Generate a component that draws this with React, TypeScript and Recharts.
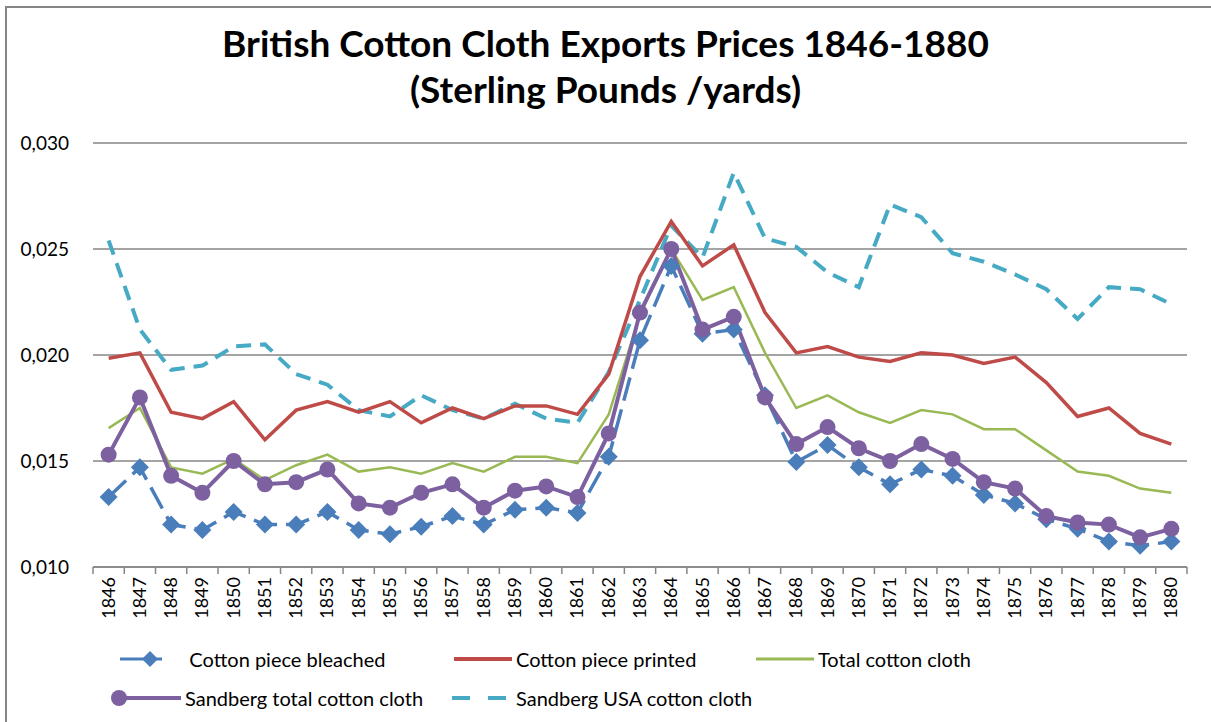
import { LineChart, Line, XAxis, YAxis, CartesianGrid } from 'recharts'

const years = [
  1846, 1847, 1848, 1849, 1850, 1851, 1852, 1853, 1854, 1855, 1856, 1857, 1858, 1859, 1860, 1861, 1862,
  1863, 1864, 1865, 1866, 1867, 1868, 1869, 1870, 1871, 1872, 1873, 1874, 1875, 1876, 1877, 1878, 1879, 1880,
]

const bleached = [
  0.0133, 0.0147, 0.0120, 0.01175, 0.0126, 0.0120, 0.0120, 0.0126, 0.01175, 0.01155, 0.0119, 0.0124, 0.0120,
  0.0127, 0.0128, 0.01255, 0.0152, 0.0207, 0.0242, 0.0210, 0.0212, 0.0181, 0.01495, 0.01575, 0.0147, 0.0139,
  0.0146, 0.0143, 0.0134, 0.0130, 0.01225, 0.0118, 0.0112, 0.0110, 0.0112,
]

const printed = [
  0.01985, 0.0201, 0.0173, 0.0170, 0.0178, 0.0160, 0.0174, 0.0178, 0.0173, 0.0178, 0.0168, 0.0175, 0.0170,
  0.0176, 0.0176, 0.0172, 0.0191, 0.0237, 0.0263, 0.0242, 0.0252, 0.0220, 0.0201, 0.0204, 0.0199, 0.0197,
  0.0201, 0.0200, 0.0196, 0.0199, 0.0187, 0.0171, 0.0175, 0.0163, 0.0158,
]

const totalCloth = [
  0.01655, 0.0175, 0.0147, 0.0144, 0.0151, 0.0141, 0.0148, 0.0153, 0.0145, 0.0147, 0.0144, 0.0149, 0.0145,
  0.0152, 0.0152, 0.0149, 0.0172, 0.0219, 0.0250, 0.0226, 0.0232, 0.0201, 0.0175, 0.0181, 0.0173, 0.0168,
  0.0174, 0.0172, 0.0165, 0.0165, 0.0155, 0.0145, 0.0143, 0.0137, 0.0135,
]

const sandbergTotal = [
  0.0153, 0.0180, 0.0143, 0.0135, 0.0150, 0.0139, 0.0140, 0.0146, 0.0130, 0.0128, 0.0135, 0.0139, 0.0128,
  0.0136, 0.0138, 0.0133, 0.0163, 0.0220, 0.0250, 0.0212, 0.0218, 0.0180, 0.0158, 0.0166, 0.0156, 0.0150,
  0.0158, 0.0151, 0.0140, 0.0137, 0.0124, 0.0121, 0.0120, 0.0114, 0.0118,
]

const sandbergUsa = [
  0.0254, 0.0212, 0.0193, 0.0195, 0.0204, 0.0205, 0.0191, 0.0186, 0.0174, 0.0171, 0.0181, 0.0174, 0.0170,
  0.0177, 0.0170, 0.0168, 0.0192, 0.0226, 0.0261, 0.0246, 0.0286, 0.0255, 0.0251, 0.0239, 0.0232, 0.0271,
  0.0265, 0.0248, 0.0244, 0.0238, 0.0231, 0.0217, 0.0232, 0.0231, 0.0224,
]

const yTicks = [0.01, 0.015, 0.02, 0.025, 0.03]

const data = years.map((year, i) => ({
  year,
  bleached: bleached[i],
  printed: printed[i],
  total: totalCloth[i],
  sandbergTotal: sandbergTotal[i],
  sandbergUsa: sandbergUsa[i],
}))

const FONT = 'Lato, "Open Sans", sans-serif'
const AXIS_GRAY = '#868686'
const BLUE = '#4a7ebb'
const RED = '#be4b48'
const GREEN = '#98b954'
const PURPLE = '#7d60a0'
const CYAN = '#46aac5'

const W = 1211
const H = 722
const PLOT_LEFT = 93
const PLOT_RIGHT = 1187
const BAND = (PLOT_RIGHT - PLOT_LEFT) / years.length

function Diamond({ cx, cy }: any) {
  if (cx == null || cy == null) return null
  const s = 9
  return (
    <path
      d={`M${cx},${cy - s} L${cx + s},${cy} L${cx},${cy + s} L${cx - s},${cy} Z`}
      fill={BLUE}
    />
  )
}

function Circle({ cx, cy }: any) {
  if (cx == null || cy == null) return null
  return <circle cx={cx} cy={cy} r={8} fill={PURPLE} />
}

function YearTick({ x, y, payload, index }: any) {
  const half = BAND / 2
  const last = index === years.length - 1
  return (
    <g>
      <line x1={x - half} x2={x - half} y1={y} y2={y + 7} stroke={AXIS_GRAY} strokeWidth={1.5} />
      {last && <line x1={x + half} x2={x + half} y1={y} y2={y + 7} stroke={AXIS_GRAY} strokeWidth={1.5} />}
      <text
        x={0}
        y={0}
        transform={`translate(${x + 6},${y + 10}) rotate(-90)`}
        textAnchor="end"
        fontSize={18}
        fontFamily={FONT}
        fill="#000"
      >
        {payload.value}
      </text>
    </g>
  )
}

function LegendItem({ kind, color, label }: { kind: string; color: string; label: string }) {
  let icon = null
  if (kind === 'diamond') {
    icon = (
      <svg width={60} height={20}>
        <line x1={8} x2={50} y1={10} y2={10} stroke={color} strokeWidth={3} />
        <path d="M38,2 L46,10 L38,18 L30,10 Z" fill={color} />
      </svg>
    )
  } else if (kind === 'circle') {
    icon = (
      <svg width={75} height={20}>
        <line x1={10} x2={73} y1={10} y2={10} stroke={color} strokeWidth={4} />
        <circle cx={11} cy={10} r={8} fill={color} />
      </svg>
    )
  } else if (kind === 'dash') {
    icon = (
      <svg width={70} height={20}>
        <line x1={8} x2={62} y1={10} y2={10} stroke={color} strokeWidth={4} strokeDasharray="18 18" />
      </svg>
    )
  } else {
    icon = (
      <svg width={62} height={20}>
        <line x1={2} x2={60} y1={10} y2={10} stroke={color} strokeWidth={kind === 'thin' ? 3 : 4} />
      </svg>
    )
  }
  return (
    <div style={{ display: 'flex', alignItems: 'center', gap: 2 }}>
      {icon}
      <span style={{ fontSize: 20, fontFamily: FONT, color: '#000' }}>{label}</span>
    </div>
  )
}

export default function App() {
  return (
    <div style={{ position: 'absolute', left: 0, top: 0, width: W, height: H, background: '#fff', overflow: 'hidden' }}>
      <div
        style={{
          position: 'absolute',
          left: 5,
          top: 6,
          width: W + 20,
          height: H + 20,
          border: `2px solid ${AXIS_GRAY}`,
          boxSizing: 'border-box',
        }}
      />
      <div
        style={{
          position: 'absolute',
          left: 0,
          top: 20,
          width: W,
          textAlign: 'center',
          fontFamily: FONT,
          fontWeight: 700,
          fontSize: 37,
          lineHeight: '46px',
          color: '#000',
        }}
      >
        British Cotton Cloth Exports Prices 1846-1880
        <br />
        (Sterling Pounds /yards)
      </div>

      <div style={{ position: 'absolute', left: 0, top: 0 }}>
        <LineChart
          width={W}
          height={H}
          data={data}
          margin={{ top: 143, right: W - PLOT_RIGHT, bottom: 95, left: 0 }}
        >
          <CartesianGrid vertical={false} stroke={AXIS_GRAY} strokeWidth={1.5} />
          <XAxis
            dataKey="year"
            type="category"
            interval={0}
            height={60}
            padding={{ left: BAND / 2, right: BAND / 2 }}
            tickLine={false}
            tickSize={0}
            tickMargin={0}
            axisLine={{ stroke: AXIS_GRAY, strokeWidth: 1.5 }}
            tick={<YearTick />}
          />
          <YAxis
            width={PLOT_LEFT}
            domain={[0.01, 0.03]}
            ticks={yTicks}
            axisLine={false}
            tickLine={false}
            tickMargin={18}
            tick={{ fontSize: 19, fontFamily: FONT, fill: '#000' }}
            tickFormatter={(v: number) => v.toFixed(3).replace('.', ',')}
          />
          <Line
            dataKey="sandbergUsa"
            stroke={CYAN}
            strokeWidth={4}
            strokeDasharray="15 9"
            dot={false}
            activeDot={false}
            isAnimationActive={false}
          />
          <Line
            dataKey="printed"
            stroke={RED}
            strokeWidth={3.5}
            dot={false}
            activeDot={false}
            isAnimationActive={false}
          />
          <Line
            dataKey="total"
            stroke={GREEN}
            strokeWidth={2.5}
            dot={false}
            activeDot={false}
            isAnimationActive={false}
          />
          <Line
            dataKey="bleached"
            stroke={BLUE}
            strokeWidth={3.5}
            strokeDasharray="24 9"
            dot={<Diamond />}
            activeDot={false}
            isAnimationActive={false}
          />
          <Line
            dataKey="sandbergTotal"
            stroke={PURPLE}
            strokeWidth={4}
            dot={<Circle />}
            activeDot={false}
            isAnimationActive={false}
          />
        </LineChart>
      </div>

      <div style={{ position: 'absolute', left: 112, top: 647 }}>
        <LegendItem kind="diamond" color={BLUE} label={'\u00A0\u00A0\u00A0Cotton piece bleached'} />
      </div>
      <div style={{ position: 'absolute', left: 452, top: 647 }}>
        <LegendItem kind="line" color={RED} label="Cotton piece printed" />
      </div>
      <div style={{ position: 'absolute', left: 754, top: 647 }}>
        <LegendItem kind="thin" color={GREEN} label="Total cotton cloth" />
      </div>
      <div style={{ position: 'absolute', left: 108, top: 686 }}>
        <LegendItem kind="circle" color={PURPLE} label="Sandberg  total  cotton cloth" />
      </div>
      <div style={{ position: 'absolute', left: 444, top: 686 }}>
        <LegendItem kind="dash" color={CYAN} label="Sandberg USA  cotton cloth" />
      </div>
    </div>
  )
}
